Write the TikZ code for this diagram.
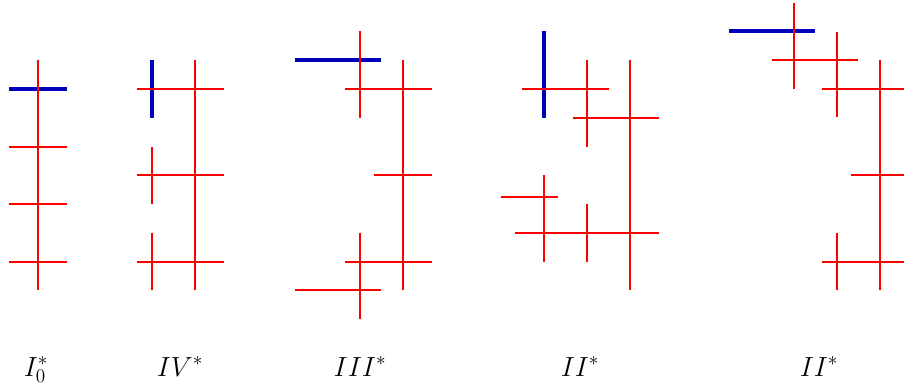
\documentclass[tikz,border=0pt]{standalone}
\usepackage{amsmath}
\definecolor{fibred}{RGB}{255,0,0}
\definecolor{fibblue}{RGB}{0,0,185}
\tikzset{
  redline/.style={draw=fibred, line width=1pt},
  blueline/.style={draw=fibblue, line width=2.3pt},
  lbl/.style={anchor=base, inner sep=0pt, font=\fontsize{20}{24}\selectfont}
}
\begin{document}
\begin{tikzpicture}[x=0.75pt,y=-0.75pt]
\useasboundingbox (0,0) rectangle (904,390);
% ---- I_0^* ----
\draw[blueline] (9,89) -- (67,89);
\draw[redline] (38,60) -- (38,290);
\draw[redline] (9,147) -- (67,147);
\draw[redline] (9,204) -- (67,204);
\draw[redline] (9,262) -- (67,262);
% ---- IV^* ----
\draw[blueline] (152,60) -- (152,118);
\draw[redline] (195,60) -- (195,290);
\draw[redline] (137,89) -- (224,89);
\draw[redline] (137,175) -- (224,175);
\draw[redline] (137,262) -- (224,262);
\draw[redline] (152,147) -- (152,204);
\draw[redline] (152,233) -- (152,290);
% ---- III^* ----
\draw[blueline] (295,60) -- (381,60);
\draw[redline] (360,31) -- (360,118);
\draw[redline] (345,89) -- (432,89);
\draw[redline] (403,60) -- (403,290);
\draw[redline] (374,175) -- (432,175);
\draw[redline] (345,262) -- (432,262);
\draw[redline] (360,233) -- (360,319);
\draw[redline] (295,290) -- (381,290);
% ---- II^* (first) ----
\draw[blueline] (544,31) -- (544,118);
\draw[redline] (522,89) -- (609,89);
\draw[redline] (587,60) -- (587,147);
\draw[redline] (573,118) -- (659,118);
\draw[redline] (630,60) -- (630,290);
\draw[redline] (501,197) -- (558,197);
\draw[redline] (544,175) -- (544,262);
\draw[redline] (515,233) -- (659,233);
\draw[redline] (587,204) -- (587,262);
% ---- II^* (second) ----
\draw[blueline] (729,31) -- (815,31);
\draw[redline] (794,3) -- (794,89);
\draw[redline] (772,60) -- (858,60);
\draw[redline] (837,32) -- (837,117);
\draw[redline] (822,89) -- (904,89);
\draw[redline] (880,60) -- (880,290);
\draw[redline] (851,175) -- (904,175);
\draw[redline] (822,262) -- (904,262);
\draw[redline] (837,233) -- (837,290);
% ---- labels ----
\node[lbl] (l1) at (36,376) {$I_0^*$};
\node[lbl] (l2) at (180,376) {$IV^*$};
\node[lbl] (l3) at (360,376) {$III^*$};
\node[lbl] (l4) at (580,376) {$II^*$};
\node[lbl] (l5) at (819,376) {$II^*$};
\end{tikzpicture}
\end{document}
